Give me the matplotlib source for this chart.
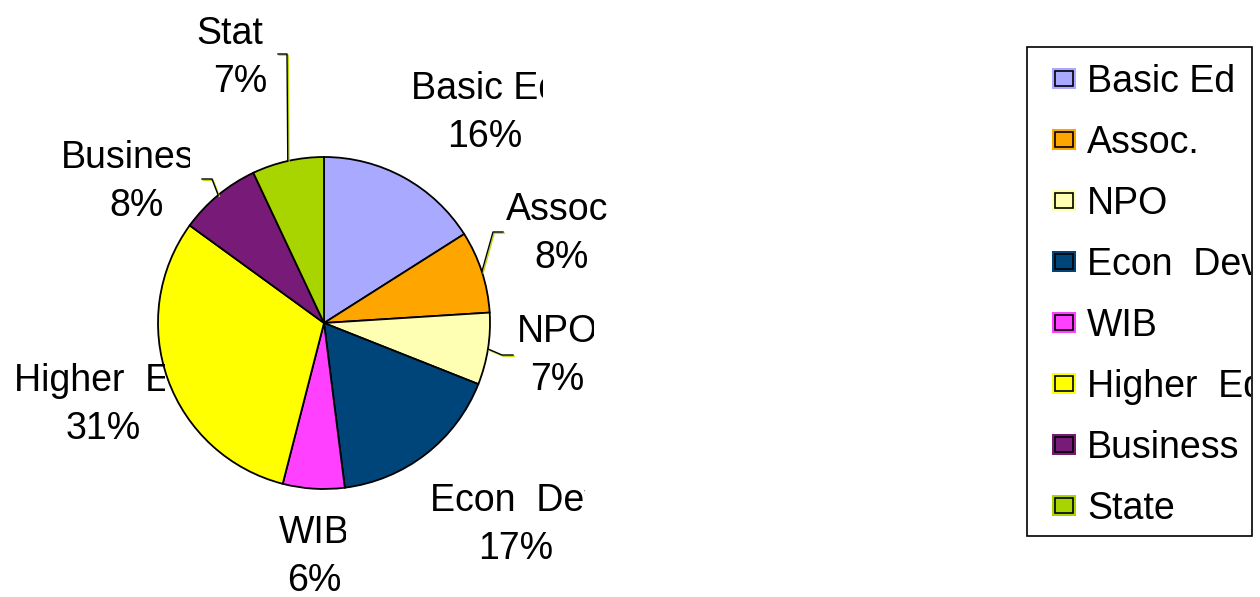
import numpy as np
import matplotlib
matplotlib.use("Agg")
import matplotlib.pyplot as plt
from matplotlib.patches import Rectangle
from matplotlib.transforms import Bbox, TransformedBbox

# data
categories = ["Basic Ed", "Assoc.", "NPO", "Econ  Dev", "WIB", "Higher  Ed", "Business", "State"]
shares = [16, 8, 7, 17, 6, 31, 8, 7]
colors = ["#a9aaff", "#ffa500", "#ffffb3", "#00457a", "#ff40ff", "#ffff00", "#781a78", "#a8d400"]

# layout (pixel units, y down)
W, H = 1260, 597
CENTER = (324, 323)
RADIUS = 166
# label block centre and right clip edge of the name line, per category
label_xy = [(485, 109), (562, 230), (557, 352), (516, 521),
            (314, 553), (103, 401), (137, 178), (240, 54)]
label_clip_right = [543, 608, 594, 585, 346, 165, 190, 264]
LINE_HALF = 24
# leader line elbows (None = no leader)
leader_elbow = [None, (493, 232), (502, 355), None, None, None, (212, 179), (287, 54)]
leader_tail = [0, 10, 11, 0, 0, 0, -10, -9]

plt.rcParams["font.family"] = ["Liberation Sans", "DejaVu Sans"]
FS = 27

fig = plt.figure(figsize=(W / 100, H / 100), dpi=100)
ax = fig.add_axes([0, 0, 1, 1])

# y axis is inverted, so counterclock in data space runs clockwise on screen
wedges, _ = ax.pie(
    shares,
    colors=colors,
    startangle=-90,
    counterclock=True,
    center=CENTER,
    radius=RADIUS,
    wedgeprops=dict(edgecolor="black", linewidth=1.3),
)

ax.set_xlim(0, W)
ax.set_ylim(H, 0)
ax.set_aspect("equal")
ax.axis("off")


def clip_box(x0, y0, x1, y1):
    # Agg only honours rectangular clip boxes for text
    return TransformedBbox(Bbox([[x0, y0], [x1, y1]]), ax.transData)


total = float(sum(shares))
cum = np.cumsum([0] + shares)
for i, name in enumerate(categories):
    lx, ly = label_xy[i]
    txt = ax.text(lx, ly - LINE_HALF, name, ha="center", va="center_baseline", fontsize=FS)
    txt.set_clip_box(clip_box(0, 0, label_clip_right[i], H))
    txt.set_clip_on(True)
    ax.text(lx, ly + LINE_HALF, f"{shares[i] / total:.0%}", ha="center",
            va="center_baseline", fontsize=FS)

    if leader_elbow[i] is not None:
        mid = (cum[i] + cum[i + 1]) / 2 / total * 2 * np.pi
        ex = CENTER[0] + RADIUS * np.sin(mid)
        ey = CENTER[1] - RADIUS * np.cos(mid)
        bx, by = leader_elbow[i]
        xs = [ex, bx, bx + leader_tail[i]]
        ys = [ey, by, by]
        ax.plot([x + 1.2 for x in xs], [y + 1.2 for y in ys], color="#b8d800", lw=1.0, zorder=3)
        ax.plot(xs, ys, color="black", lw=1.0, zorder=4)

# legend drawn by hand so the text can be clipped by its frame
box_l, box_r, box_t, box_b = 1027, 1252, 47, 536
row_y0, row_step = 78, 61.0
frame = Rectangle((box_l, box_t), box_r - box_l, box_b - box_t, facecolor="white",
                  edgecolor="black", linewidth=1.2, zorder=5)
ax.add_patch(frame)
for i, name in enumerate(categories):
    cy = row_y0 + i * row_step
    ax.add_patch(Rectangle((1052, cy - 10.5), 24, 21, facecolor=colors[i],
                           edgecolor="none", zorder=6))
    ax.add_patch(Rectangle((1055, cy - 7.5), 18, 15, facecolor=colors[i],
                           edgecolor="black", linewidth=1.2, zorder=7))
    t = ax.text(1087, cy, name, ha="left", va="center_baseline", fontsize=FS, zorder=8)
    t.set_clip_box(clip_box(box_l, box_t, box_r - 1, box_b))
    t.set_clip_on(True)

fig.savefig("out.png", dpi=100)
